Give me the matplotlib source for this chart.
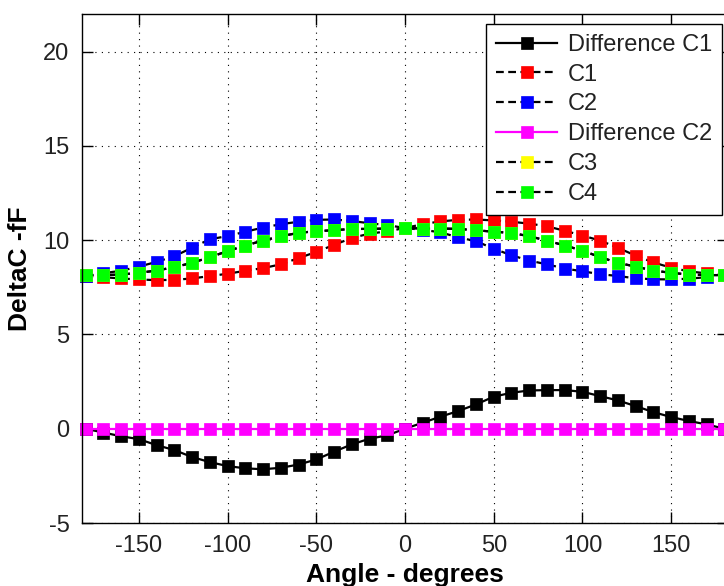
import matplotlib
matplotlib.use("Agg")
import matplotlib.pyplot as plt

plt.rcParams['font.family'] = ['Liberation Sans', 'DejaVu Sans']
plt.rcParams['axes.unicode_minus'] = False

angle = list(range(-180, 181, 10))

c1 = [8.12, 8.04, 7.97, 7.92, 7.88, 7.9, 7.97, 8.1, 8.22, 8.38, 8.52, 8.72, 9.05, 9.38,
      9.75, 10.12, 10.35, 10.47, 10.65, 10.85, 11.0, 11.08, 11.1, 11.05, 10.98, 10.88,
      10.74, 10.5, 10.25, 9.98, 9.6, 9.18, 8.82, 8.54, 8.35, 8.24, 8.15]
c2 = [8.12, 8.25, 8.38, 8.6, 8.85, 9.15, 9.6, 10.05, 10.22, 10.45, 10.67, 10.85, 10.98,
      11.08, 11.1, 11.02, 10.9, 10.8, 10.65, 10.55, 10.42, 10.15, 9.95, 9.55, 9.2, 8.92,
      8.72, 8.5, 8.35, 8.2, 8.1, 7.98, 7.93, 7.92, 7.96, 8.04, 8.15]
diff_c1 = [0, -0.2, -0.4, -0.55, -0.87, -1.13, -1.5, -1.77, -1.98, -2.1, -2.15, -2.07,
           -1.9, -1.63, -1.22, -0.83, -0.53, -0.35, 0, 0.32, 0.64, 0.94, 1.29, 1.7, 1.91,
           2.03, 2.05, 2.05, 1.96, 1.73, 1.5, 1.2, 0.88, 0.62, 0.41, 0.23, 0]
c4 = [8.15, 8.15, 8.18, 8.27, 8.39, 8.57, 8.8, 9.1, 9.42, 9.72, 9.98, 10.21, 10.39, 10.48,
      10.53, 10.6, 10.6, 10.62, 10.65, 10.62, 10.62, 10.6, 10.53, 10.45, 10.39, 10.21,
      9.98, 9.72, 9.45, 9.1, 8.8, 8.6, 8.39, 8.27, 8.18, 8.15, 8.15]
c3 = list(c4)
diff_c2 = [a - b for a, b in zip(c3, c4)]

fig = plt.figure(figsize=(7.24, 5.86), dpi=100)
ax = fig.add_axes([82 / 724, 1 - 523 / 586, 646 / 724, 509 / 586])

ms = 8
dash = (0, (3.5, 2))
series = [
    (diff_c1, 'k', '-', 'k', 'Difference C1'),
    (c1, 'k', dash, '#ff0000', 'C1'),
    (c2, 'k', dash, '#0000ff', 'C2'),
    (diff_c2, '#ff00ff', '-', '#ff00ff', 'Difference C2'),
    (c3, 'k', dash, '#ffff00', 'C3'),
    (c4, 'k', dash, '#00ff00', 'C4'),
]
for vals, lc, ls, fc, name in series:
    ax.plot(angle, vals, color=lc, ls=ls, lw=1.6, marker='s', ms=ms, mew=0.5,
            mfc=fc, mec=fc, label=name, clip_on=False)

ax.set_xlim(-182, 182)
ax.set_ylim(-5, 22)
ax.set_xticks([-150, -100, -50, 0, 50, 100, 150])
ax.set_yticks([-5, 0, 5, 10, 15, 20])
ax.grid(True, color='k', ls=(0, (1, 4.8)), lw=0.8)
ax.tick_params(direction='in', length=8, width=1, top=True, right=True,
               labelsize=17, labelcolor='#222222', pad=9)
for s in ax.spines.values():
    s.set_linewidth(1)

ax.set_xlabel('Angle - degrees', fontsize=19, fontweight='bold', labelpad=4)
ax.set_ylabel('DeltaC -fF', fontsize=19, fontweight='bold', labelpad=8)

leg = ax.legend(loc='upper right', bbox_to_anchor=(722 / 724, 1 - 24 / 586),
                bbox_transform=fig.transFigure, borderaxespad=0, fontsize=17,
                fancybox=False, framealpha=1, edgecolor='k', labelspacing=0.33,
                handlelength=2.6, handletextpad=0.45, borderpad=0.42)
leg.get_frame().set_linewidth(1)
for t in leg.get_texts():
    t.set_color('#222222')

fig.savefig('out.png', dpi=100)
